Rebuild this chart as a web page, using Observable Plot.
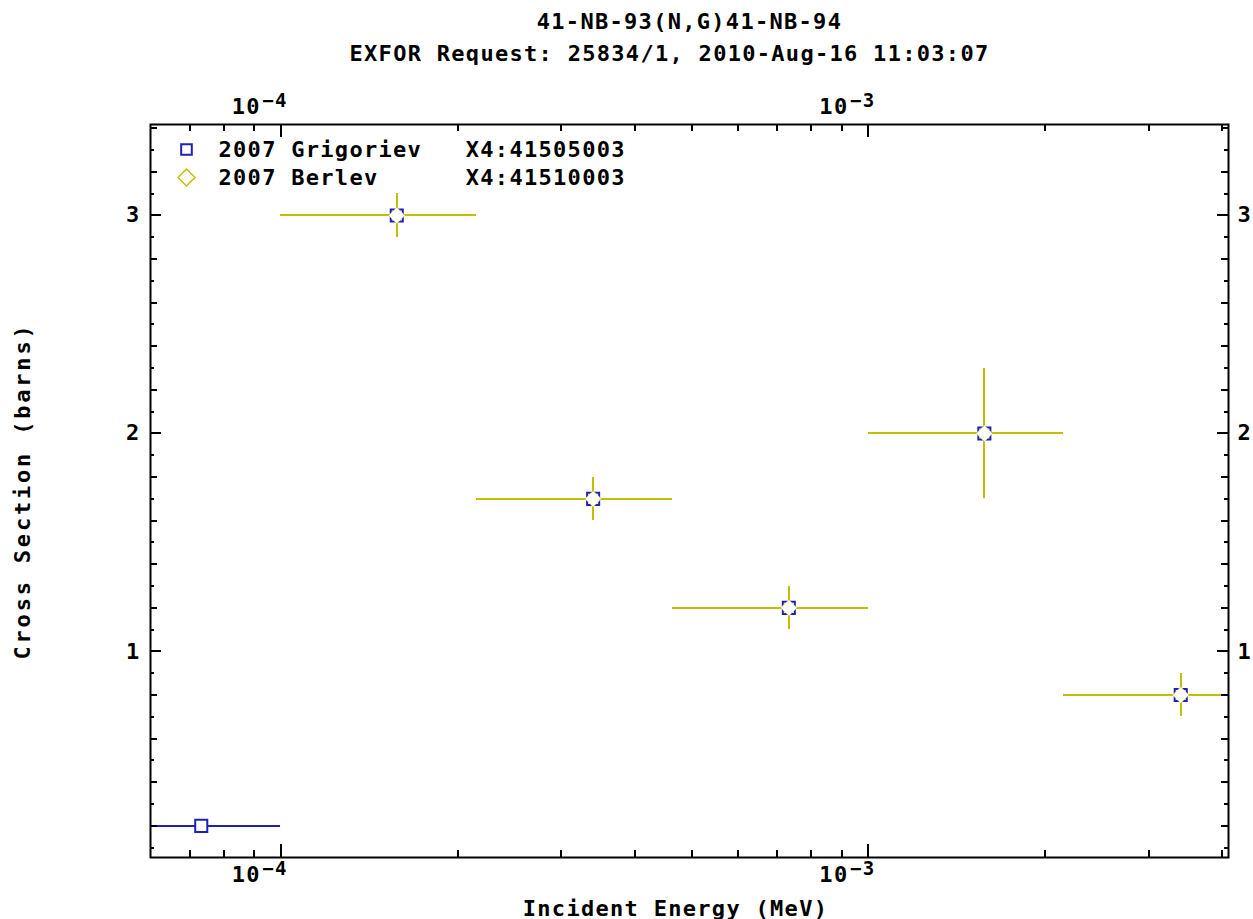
<!DOCTYPE html>
<html>
<head>
<meta charset="utf-8">
<script src="https://cdn.jsdelivr.net/npm/d3@7"></script>
<script src="https://cdn.jsdelivr.net/npm/@observablehq/plot@0.6"></script>
<style>
  html, body { margin: 0; padding: 0; background: white; }
  #wrap { position: relative; width: 1253px; height: 919px; }
  .title { position: absolute; left: 0; width: 1253px; text-align: center; font-family: "DejaVu Sans Mono", monospace; font-weight: bold; font-size: 22px; line-height: 22px; letter-spacing: 1.3px; color: black; white-space: pre; }
  #t1 { top: 11px; left: 63px; }
  #t2 { top: 43px; left: 43px; }
  #chart { position: absolute; top: 70px; left: 0; }
  svg text { white-space: pre; letter-spacing: 1.3px; }
  svg g.ylab text { letter-spacing: 2.8px; }
</style>
</head>
<body>
<div id="wrap">
  <div class="title" id="t1"></div>
  <div class="title" id="t2"></div>
  <div id="chart"></div>
</div>
<script>
// ---- text ----
const titleLine1 = "41-NB-93(N,G)41-NB-94";
const titleLine2 = "EXFOR Request: 25834/1, 2010-Aug-16 11:03:07";
const xLabel = "Incident Energy (MeV)";
const yLabel = "Cross Section (barns)";
const legendLabels = ["2007 Grigoriev   X4:41505003", "2007 Berlev      X4:41510003"];

// ---- data: 2007 Grigoriev (X4:41505003) ----
const grigEnergy = [7.32e-5, 1.575e-4, 3.4e-4, 7.32e-4, 1.575e-3, 3.4e-3];
const grigEnergyLow = [4.64e-5, 1.0e-4, 2.15e-4, 4.64e-4, 1.0e-3, 2.15e-3];
const grigEnergyHigh = [1.0e-4, 2.15e-4, 4.64e-4, 1.0e-3, 2.15e-3, 4.64e-3];
const grigXS = [0.2, 3.0, 1.7, 1.2, 2.0, 0.8];

// ---- data: 2007 Berlev (X4:41510003) ----
const berEnergy = [1.575e-4, 3.4e-4, 7.32e-4, 1.575e-3, 3.4e-3];
const berEnergyLow = [1.0e-4, 2.15e-4, 4.64e-4, 1.0e-3, 2.15e-3];
const berEnergyHigh = [2.15e-4, 4.64e-4, 1.0e-3, 2.15e-3, 4.64e-3];
const berXS = [3.0, 1.7, 1.2, 2.0, 0.8];
const berXSErr = [0.1, 0.1, 0.1, 0.3, 0.1];

// ---- ticks ----
const xMajorTicks = [1e-4, 1e-3];
const xMajorExp = ["\u22124", "\u22123"];
const xMinorTicks = [7e-5, 8e-5, 9e-5, 2e-4, 3e-4, 4e-4, 5e-4, 6e-4, 7e-4, 8e-4, 9e-4, 2e-3, 3e-3, 4e-3];
const yMajorTicks = [1, 2, 3];
const yMidTicks = [0.2, 0.4, 0.6, 0.8, 1.2, 1.4, 1.6, 1.8, 2.2, 2.4, 2.6, 2.8, 3.2, 3.4];
const yMinorTicks = [0.1, 0.3, 0.5, 0.7, 0.9, 1.1, 1.3, 1.5, 1.7, 1.9, 2.1, 2.3, 2.5, 2.7, 2.9, 3.1, 3.3];

const blue = "#2020b8";
const yellow = "#c0c000";

const grig = grigEnergy.map((e, i) => ({e, lo: grigEnergyLow[i], hi: grigEnergyHigh[i], xs: grigXS[i]}));
const ber = berEnergy.map((e, i) => ({e, lo: berEnergyLow[i], hi: berEnergyHigh[i], xs: berXS[i], err: berXSErr[i]}));

document.getElementById("t1").textContent = titleLine1;
document.getElementById("t2").textContent = titleLine2;

const W = 1253, H = 849, mT = 54, mB = 62, mL = 150, mR = 25;
const plotW = W - mL - mR, plotH = H - mT - mB;
const tick = {stroke: "black", strokeWidth: 2, shapeRendering: "crispEdges"};

const chart = Plot.plot({
  width: W, height: H,
  marginTop: mT, marginBottom: mB, marginLeft: mL, marginRight: mR,
  x: {type: "log", domain: [6e-5, 4.1e-3], clamp: true, axis: null},
  y: {domain: [0.055, 3.417], axis: null},
  style: {fontFamily: "DejaVu Sans Mono", fontWeight: "bold", fontSize: "22px", color: "black", background: "white", overflow: "visible"},
  marks: [
    // error bars
    Plot.ruleY(grig, {y: "xs", x1: "lo", x2: "hi", stroke: blue, strokeWidth: 2, shapeRendering: "crispEdges"}),
    Plot.ruleY(ber, {y: "xs", x1: "lo", x2: "hi", stroke: yellow, strokeWidth: 2, shapeRendering: "crispEdges"}),
    Plot.ruleX(ber, {x: "e", y1: d => d.xs - d.err, y2: d => d.xs + d.err, stroke: yellow, strokeWidth: 2, shapeRendering: "crispEdges"}),
    // markers
    Plot.dot(grig, {x: "e", y: "xs", symbol: "square", r: 6.8, stroke: blue, strokeWidth: 2, fill: "white"}),
    Plot.dot(ber, {x: "e", y: "xs", symbol: "diamond2", r: 7.4, stroke: yellow, strokeOpacity: 0.45, strokeWidth: 1, fill: "white"}),
    // ticks (inward)
    Plot.ruleX(xMajorTicks, {x: d => d, insetTop: plotH - 13, ...tick}),
    Plot.ruleX(xMinorTicks, {x: d => d, insetTop: plotH - 7, ...tick}),
    Plot.ruleX(xMajorTicks, {x: d => d, insetBottom: plotH - 13, ...tick}),
    Plot.ruleX(xMinorTicks, {x: d => d, insetBottom: plotH - 7, ...tick}),
    Plot.ruleY(yMajorTicks, {y: d => d, insetRight: plotW - 11, ...tick}),
    Plot.ruleY(yMidTicks, {y: d => d, insetRight: plotW - 7, ...tick}),
    Plot.ruleY(yMinorTicks, {y: d => d, insetRight: plotW - 4, ...tick}),
    Plot.ruleY(yMajorTicks, {y: d => d, insetLeft: plotW - 11, ...tick}),
    Plot.ruleY(yMidTicks, {y: d => d, insetLeft: plotW - 7, ...tick}),
    Plot.ruleY(yMinorTicks, {y: d => d, insetLeft: plotW - 4, ...tick}),
    Plot.frame({stroke: "black", strokeWidth: 2}),
    // x tick labels (bottom and top)
    Plot.text(xMajorTicks, {x: d => d, text: () => "10", frameAnchor: "bottom", lineAnchor: "bottom", textAnchor: "end", dy: 24, dx: -20, fill: "black"}),
    Plot.text(xMajorTicks, {x: d => d, text: (d, i) => xMajorExp[i], frameAnchor: "bottom", lineAnchor: "bottom", textAnchor: "end", dy: 17, dx: 7, fontSize: 19, fill: "black"}),
    Plot.text(xMajorTicks, {x: d => d, text: () => "10", frameAnchor: "top", lineAnchor: "bottom", textAnchor: "end", dy: -11, dx: -20, fill: "black"}),
    Plot.text(xMajorTicks, {x: d => d, text: (d, i) => xMajorExp[i], frameAnchor: "top", lineAnchor: "bottom", textAnchor: "end", dy: -18, dx: 7, fontSize: 19, fill: "black"}),
    // y tick labels (left and right)
    Plot.text(yMajorTicks, {y: d => d, text: d => String(d), frameAnchor: "left", textAnchor: "end", lineAnchor: "middle", dx: -10, fill: "black"}),
    Plot.text(yMajorTicks, {y: d => d, text: d => String(d), frameAnchor: "right", textAnchor: "start", lineAnchor: "middle", dx: 9, fill: "black"}),
    // axis labels
    Plot.text([xLabel], {text: d => d, frameAnchor: "bottom", textAnchor: "middle", lineAnchor: "middle", dy: 51, dx: -14, fill: "black"}),
    Plot.text([yLabel], {text: d => d, frameAnchor: "left", textAnchor: "middle", rotate: -90, lineAnchor: "middle", dx: -128, fill: "black", className: "ylab"}),
    // legend
    Plot.dot([legendLabels[0]], {frameAnchor: "top-left", dx: 36, dy: 25, symbol: "square", r: 6, stroke: blue, strokeWidth: 2, fill: "none"}),
    Plot.dot([legendLabels[1]], {frameAnchor: "top-left", dx: 36, dy: 53, symbol: "diamond2", r: 7.6, stroke: yellow, strokeWidth: 1.5, fill: "none"}),
    Plot.text([legendLabels[0]], {text: d => d, frameAnchor: "top-left", textAnchor: "start", lineAnchor: "middle", dx: 68, dy: 25, fill: "black"}),
    Plot.text([legendLabels[1]], {text: d => d, frameAnchor: "top-left", textAnchor: "start", lineAnchor: "middle", dx: 68, dy: 53, fill: "black"})
  ]
});
document.getElementById("chart").appendChild(chart);
</script>
</body>
</html>
